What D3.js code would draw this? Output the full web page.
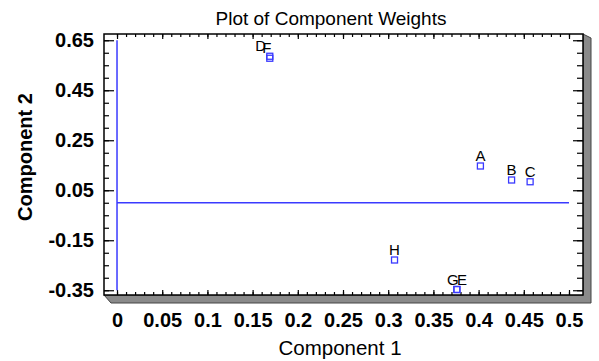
<!DOCTYPE html>
<html>
<head>
<meta charset="utf-8">
<script src="https://cdn.jsdelivr.net/npm/d3@7"></script>
<style>
  body { margin: 0; background: #fff; }
  svg { display: block; font-family: "Liberation Sans", Arial, sans-serif; }
  .tick text { font-size: 20px; font-weight: bold; fill: #000; }
  .tick line { stroke: #000; stroke-width: 1.2; }
</style>
</head>
<body>
<svg id="chart" width="599" height="361"></svg>
<script>
// component weights
var names = ['A', 'B', 'C', 'D', 'E', 'F', 'G', 'H'];
var comp1 = [0.402, 0.4365, 0.457, 0.169, 0.376, 0.169, 0.376, 0.307];
var comp2 = [0.147, 0.091, 0.084, 0.586, -0.347, 0.578, -0.347, -0.229];

var xTicks = [0, 0.05, 0.1, 0.15, 0.2, 0.25, 0.3, 0.35, 0.4, 0.45, 0.5];
var yTicks = [0.65, 0.45, 0.25, 0.05, -0.15, -0.35];
var xDomain = [-0.0144, 0.5155];
var yDomain = [-0.369, 0.675];

// label nudges so overlapping names stay readable
var labelDx = {D: -9, F: -3, G: -4, E: 5};

var svg = d3.select('#chart');
var pLeft = 104, pRight = 583, pTop = 34, pBottom = 295;

var x = d3.scaleLinear().domain(xDomain).range([pLeft, pRight]);
var y = d3.scaleLinear().domain(yDomain).range([pBottom, pTop]);

var xMinor = d3.range(0, 0.5001, 0.01);
var yMinor = d3.range(-0.35, 0.6501, 0.05);

// shadow on right and bottom
svg.append('path')
    .attr('d', 'M' + pRight + ',' + pTop + 'L' + (pRight + 8) + ',' + (pTop + 4) + 'L' + (pRight + 8) + ',' + (pBottom + 8) +
         'L' + (pLeft + 7) + ',' + (pBottom + 8) + 'L' + pLeft + ',' + pBottom + 'L' + pRight + ',' + pBottom + 'Z')
    .attr('fill', '#8a8a8a')
    .attr('stroke', '#444')
    .attr('stroke-width', 1);

svg.append('rect')
    .attr('x', pLeft).attr('y', pTop)
    .attr('width', pRight - pLeft).attr('height', pBottom - pTop)
    .attr('fill', '#fff')
    .attr('stroke', '#000')
    .attr('stroke-width', 1.5);

var fmt = function(d) { return String(+d.toFixed(2)); };

// minor ticks
svg.append('g').attr('transform', 'translate(' + pLeft + ',0)')
    .call(d3.axisLeft(y).tickValues(yMinor).tickSizeInner(-5).tickSizeOuter(0).tickFormat(''));
svg.append('g').attr('transform', 'translate(' + pRight + ',0)')
    .call(d3.axisRight(y).tickValues(yMinor).tickSizeInner(-6).tickSizeOuter(0).tickFormat(''));
svg.append('g').attr('transform', 'translate(0,' + pBottom + ')')
    .call(d3.axisBottom(x).tickValues(xMinor).tickSizeInner(-3).tickSizeOuter(0).tickFormat(''));
svg.append('g').attr('transform', 'translate(0,' + pTop + ')')
    .call(d3.axisTop(x).tickValues(xMinor).tickSizeInner(-3).tickSizeOuter(0).tickFormat(''));

// major ticks
svg.append('g').attr('transform', 'translate(' + pLeft + ',0)')
    .call(d3.axisLeft(y).tickValues(yTicks).tickSizeInner(-10).tickSizeOuter(0).tickPadding(10).tickFormat(fmt));
svg.append('g').attr('transform', 'translate(' + pRight + ',0)')
    .call(d3.axisRight(y).tickValues(yTicks).tickSizeInner(-10).tickSizeOuter(0).tickFormat(''));
svg.append('g').attr('transform', 'translate(0,' + pBottom + ')')
    .call(d3.axisBottom(x).tickValues(xTicks).tickSizeInner(-5).tickSizeOuter(0).tickPadding(18).tickFormat(fmt));
svg.append('g').attr('transform', 'translate(0,' + pTop + ')')
    .call(d3.axisTop(x).tickValues(xTicks).tickSizeInner(-5).tickSizeOuter(0).tickFormat(''));

svg.selectAll('.domain').remove();

// zero reference lines
svg.append('line')
    .attr('x1', x(0)).attr('x2', x(0))
    .attr('y1', y(0.65)).attr('y2', y(-0.35))
    .attr('stroke', '#3a3aff').attr('stroke-width', 1.5);
svg.append('line')
    .attr('x1', x(0)).attr('x2', x(0.5))
    .attr('y1', y(0)).attr('y2', y(0))
    .attr('stroke', '#3a3aff').attr('stroke-width', 1.5);

var pts = names.map(function(n, i) { return {name: n, c1: comp1[i], c2: comp2[i]}; });

svg.append('g').selectAll('rect')
    .data(pts).enter().append('rect')
    .attr('x', function(d) { return x(d.c1) - 3; })
    .attr('y', function(d) { return y(d.c2) - 3; })
    .attr('width', 6).attr('height', 6)
    .attr('fill', 'none')
    .attr('stroke', '#3a3aff')
    .attr('stroke-width', 1.3);

svg.append('g').selectAll('text')
    .data(pts).enter().append('text')
    .attr('x', function(d) { return x(d.c1) + (labelDx[d.name] || 0); })
    .attr('y', function(d) { return y(d.c2) - 5; })
    .attr('text-anchor', 'middle')
    .style('font-size', '15px')
    .text(function(d) { return d.name; });

svg.append('text')
    .attr('x', 331).attr('y', 25)
    .attr('text-anchor', 'middle')
    .style('font-size', '19px')
    .text('Plot of Component Weights');

svg.append('text')
    .attr('x', 340).attr('y', 355)
    .attr('text-anchor', 'middle')
    .style('font-size', '20.5px')
    .text('Component 1');

svg.append('text')
    .attr('transform', 'translate(32,157) rotate(-90)')
    .attr('text-anchor', 'middle')
    .style('font-size', '20px')
    .style('font-weight', 'bold')
    .text('Component 2');
</script>
</body>
</html>
